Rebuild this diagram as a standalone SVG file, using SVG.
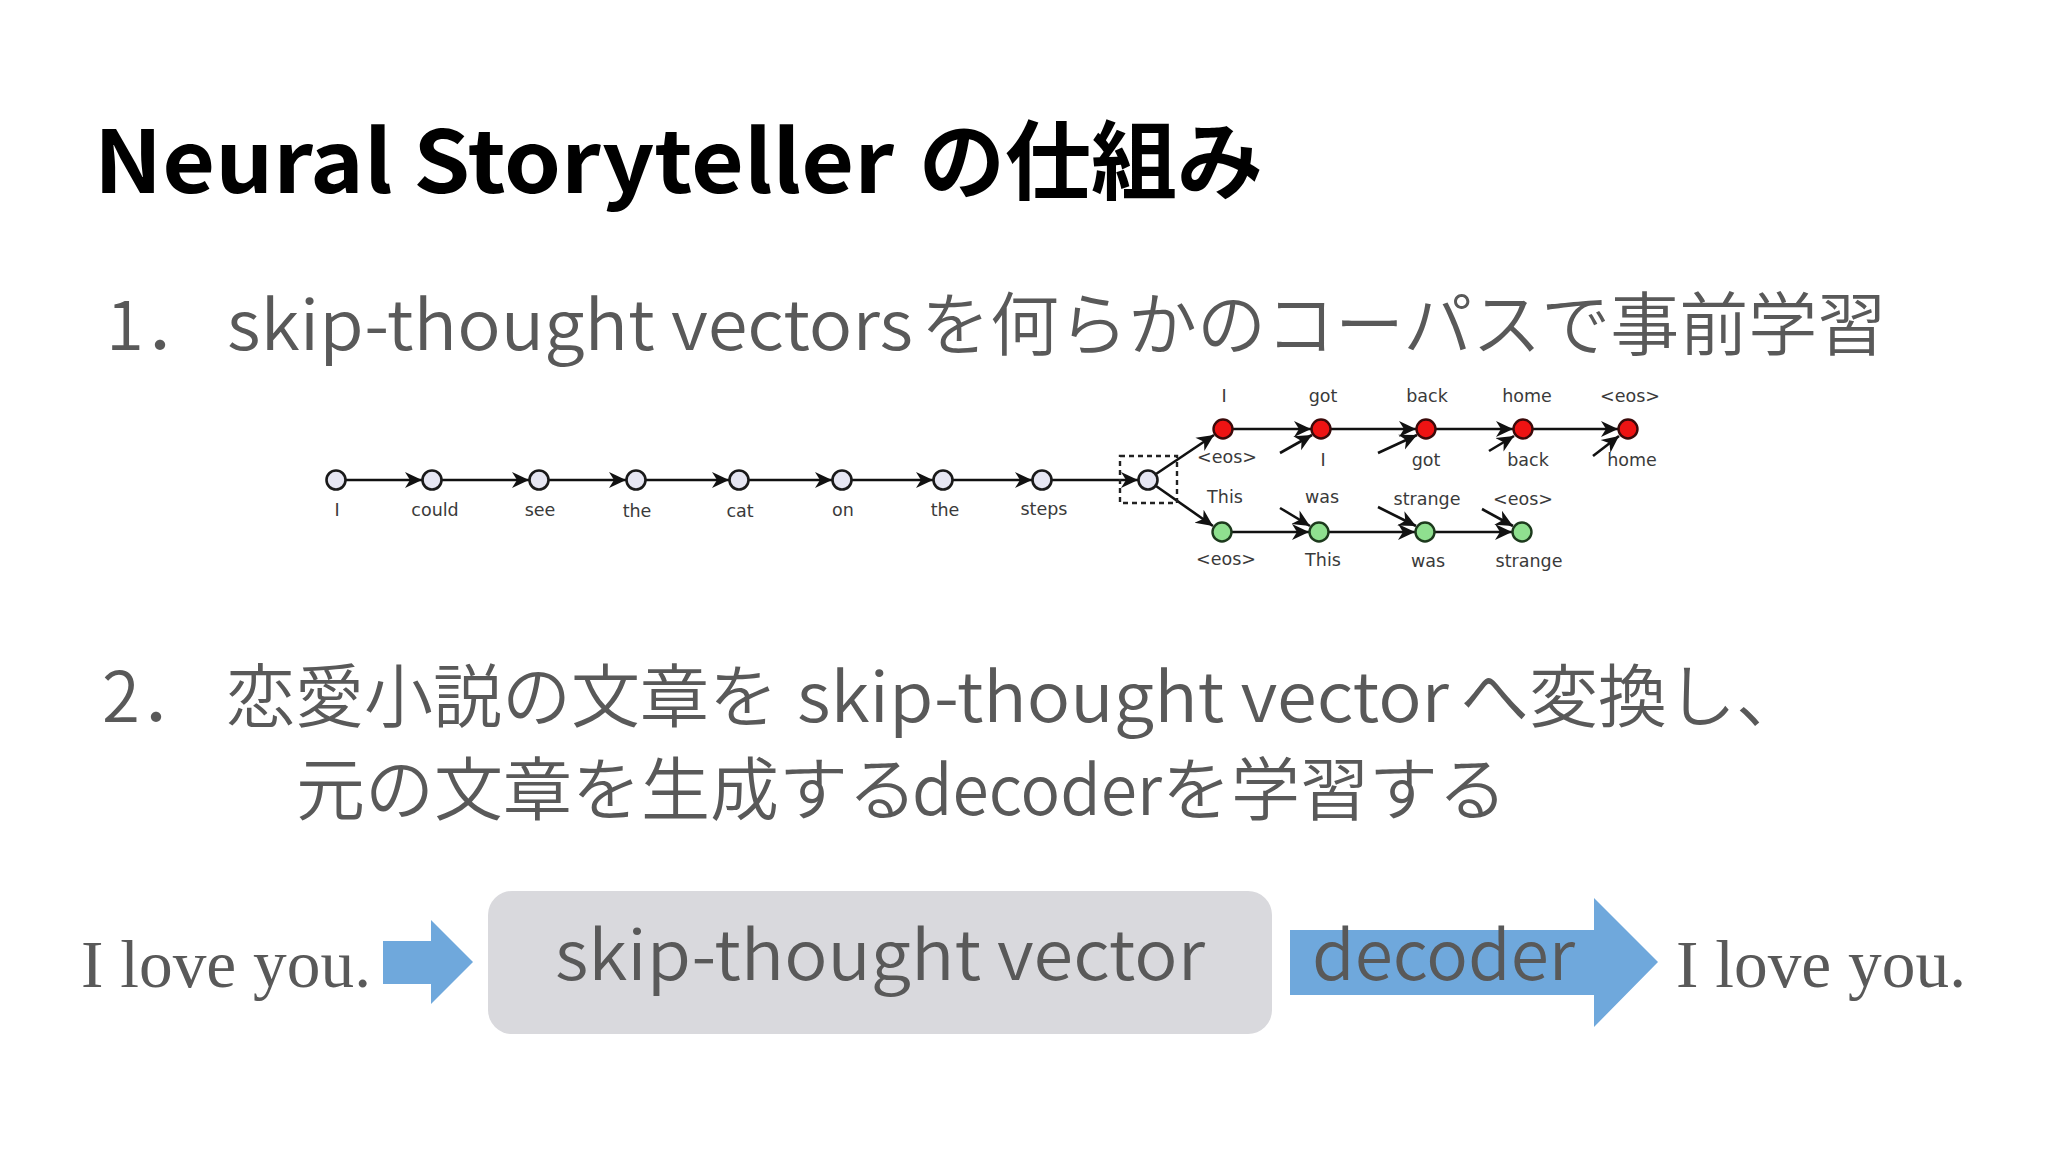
<svg xmlns="http://www.w3.org/2000/svg" width="2048" height="1152" viewBox="0 0 2048 1152">
<style>
.title{font-family:"Noto Sans CJK JP","Noto Sans",sans-serif;font-weight:bold;font-size:86px;fill:#000}
.body{font-family:"Noto Sans CJK JP","Noto Sans",sans-serif;font-weight:350;font-size:69px;fill:#595959}
.big{font-family:"Noto Sans CJK JP","Noto Sans",sans-serif;font-weight:350;font-size:68px;fill:#595959}
.serif{font-family:"Liberation Serif","Times New Roman",serif;font-size:68px;fill:#595959}
.lbl{font-family:"DejaVu Sans",sans-serif;font-size:17.5px;fill:#3a3a3a;text-anchor:middle}
.gn{fill:#e6e6f2;stroke:#1a1a1a;stroke-width:2.6}
.rn{fill:#ee1313;stroke:#3a0a0a;stroke-width:2.4}
.en{fill:#8fe08f;stroke:#1d3a1d;stroke-width:2.4}
.edge{stroke:#111;stroke-width:2.6;fill:none;marker-end:url(#ah)}
.blk{fill:#6fa8dc}
</style>
<defs>
<marker id="ah" markerUnits="userSpaceOnUse" viewBox="0 0 18 18" markerWidth="18" markerHeight="18" refX="17" refY="9" orient="auto">
<path d="M0,1 L17,9 L0,17 L5,9 Z" fill="#111"/>
</marker>
</defs>
<rect width="2048" height="1152" fill="#fff"/>

<g id="title"><text class="title" y="193"><tspan x="94" textLength="800" lengthAdjust="spacingAndGlyphs">Neural Storyteller</tspan><tspan x="919">の仕組み</tspan></text></g>

<g id="step1"><text class="body" y="350"><tspan x="106">1．</tspan><tspan x="227" textLength="686" lengthAdjust="spacingAndGlyphs">skip-thought vectors</tspan><tspan x="921">を何らかのコーパスで事前学習</tspan></text></g>

<g id="step2">
<text class="body" y="722"><tspan x="102">2．</tspan><tspan x="226">恋愛小説の文章を</tspan><tspan x="797" textLength="652" lengthAdjust="spacingAndGlyphs">skip-thought vector</tspan><tspan x="1460">へ変換し、</tspan></text>
<text class="body" y="815"><tspan x="296">元の文章を生成する</tspan><tspan x="912" textLength="250" lengthAdjust="spacingAndGlyphs">decoder</tspan><tspan x="1162">を学習する</tspan></text>
</g>

<!-- skip-thought graph -->
<g id="connectors">
<line class="edge" x1="346" y1="480" x2="422" y2="480"/>
<line class="edge" x1="442" y1="480" x2="529" y2="480"/>
<line class="edge" x1="549" y1="480" x2="626" y2="480"/>
<line class="edge" x1="646" y1="480" x2="729" y2="480"/>
<line class="edge" x1="749" y1="480" x2="832" y2="480"/>
<line class="edge" x1="852" y1="480" x2="933" y2="480"/>
<line class="edge" x1="953" y1="480" x2="1032" y2="480"/>
<line class="edge" x1="1052" y1="480" x2="1138" y2="480"/>
<line class="edge" x1="1156" y1="474" x2="1214" y2="435"/>
<line class="edge" x1="1156" y1="486" x2="1213" y2="526"/>
<line class="edge" x1="1233" y1="429" x2="1311" y2="429"/>
<line class="edge" x1="1331" y1="429" x2="1416" y2="429"/>
<line class="edge" x1="1436" y1="429" x2="1513" y2="429"/>
<line class="edge" x1="1533" y1="429" x2="1618" y2="429"/>
<line class="edge" x1="1280" y1="453" x2="1312" y2="435"/>
<line class="edge" x1="1378" y1="453" x2="1417" y2="435"/>
<line class="edge" x1="1489" y1="451" x2="1514" y2="436"/>
<line class="edge" x1="1593" y1="456" x2="1619" y2="436"/>
<line class="edge" x1="1232" y1="532" x2="1309" y2="532"/>
<line class="edge" x1="1329" y1="532" x2="1415" y2="532"/>
<line class="edge" x1="1435" y1="532" x2="1512" y2="532"/>
<line class="edge" x1="1280" y1="508" x2="1310" y2="526"/>
<line class="edge" x1="1378" y1="507" x2="1416" y2="526"/>
<line class="edge" x1="1482" y1="509" x2="1513" y2="526"/>
</g>

<g id="n-i"><circle class="gn" cx="336" cy="480" r="9.5"/><text class="lbl" x="337" y="516">I</text></g>
<g id="n-could"><circle class="gn" cx="432" cy="480" r="9.5"/><text class="lbl" x="435" y="516">could</text></g>
<g id="n-see"><circle class="gn" cx="539" cy="480" r="9.5"/><text class="lbl" x="540" y="516">see</text></g>
<g id="n-the1"><circle class="gn" cx="636" cy="480" r="9.5"/><text class="lbl" x="637" y="517">the</text></g>
<g id="n-cat"><circle class="gn" cx="739" cy="480" r="9.5"/><text class="lbl" x="740" y="517">cat</text></g>
<g id="n-on"><circle class="gn" cx="842" cy="480" r="9.5"/><text class="lbl" x="843" y="516">on</text></g>
<g id="n-the2"><circle class="gn" cx="943" cy="480" r="9.5"/><text class="lbl" x="945" y="516">the</text></g>
<g id="n-steps"><circle class="gn" cx="1042" cy="480" r="9.5"/><text class="lbl" x="1044" y="515">steps</text></g>
<g id="n-vec"><rect x="1120" y="456" width="57" height="47" fill="none" stroke="#222" stroke-width="2.4" stroke-dasharray="5,4"/><circle class="gn" cx="1148" cy="480" r="9.5"/></g>

<g id="r1"><circle class="rn" cx="1223" cy="429" r="9.5"/><text class="lbl" x="1224" y="402">I</text><text class="lbl" x="1227" y="463">&lt;eos&gt;</text></g>
<g id="r2"><circle class="rn" cx="1321" cy="429" r="9.5"/><text class="lbl" x="1323" y="402">got</text><text class="lbl" x="1323" y="466">I</text></g>
<g id="r3"><circle class="rn" cx="1426" cy="429" r="9.5"/><text class="lbl" x="1427" y="402">back</text><text class="lbl" x="1426" y="466">got</text></g>
<g id="r4"><circle class="rn" cx="1523" cy="429" r="9.5"/><text class="lbl" x="1527" y="402">home</text><text class="lbl" x="1528" y="466">back</text></g>
<g id="r5"><circle class="rn" cx="1628" cy="429" r="9.5"/><text class="lbl" x="1630" y="402">&lt;eos&gt;</text><text class="lbl" x="1632" y="466">home</text></g>

<g id="g1"><circle class="en" cx="1222" cy="532" r="9.5"/><text class="lbl" x="1225" y="503">This</text><text class="lbl" x="1226" y="565">&lt;eos&gt;</text></g>
<g id="g2"><circle class="en" cx="1319" cy="532" r="9.5"/><text class="lbl" x="1322" y="503">was</text><text class="lbl" x="1323" y="566">This</text></g>
<g id="g3"><circle class="en" cx="1425" cy="532" r="9.5"/><text class="lbl" x="1427" y="505">strange</text><text class="lbl" x="1428" y="567">was</text></g>
<g id="g4"><circle class="en" cx="1522" cy="532" r="9.5"/><text class="lbl" x="1523" y="505">&lt;eos&gt;</text><text class="lbl" x="1529" y="567">strange</text></g>

<!-- bottom flow -->
<g id="input"><text class="serif" x="81" y="987" textLength="290" lengthAdjust="spacingAndGlyphs">I love you.</text></g>
<g id="flow-arrows">
<polygon class="blk" points="383,941 431,941 431,920 473,962 431,1004 431,984 383,984"/>
<polygon class="blk" points="1290,930 1594,930 1594,898 1658,962 1594,1027 1594,995 1290,995"/>
</g>
<g id="vector-box"><rect x="488" y="891" width="784" height="143" rx="24" fill="#d9d9dd"/><text class="big" x="555" y="980" textLength="650" lengthAdjust="spacingAndGlyphs">skip-thought vector</text></g>
<g id="decoder"><text class="big" x="1312" y="980" textLength="263" lengthAdjust="spacingAndGlyphs">decoder</text></g>
<g id="output"><text class="serif" x="1676" y="987" textLength="290" lengthAdjust="spacingAndGlyphs">I love you.</text></g>
</svg>
